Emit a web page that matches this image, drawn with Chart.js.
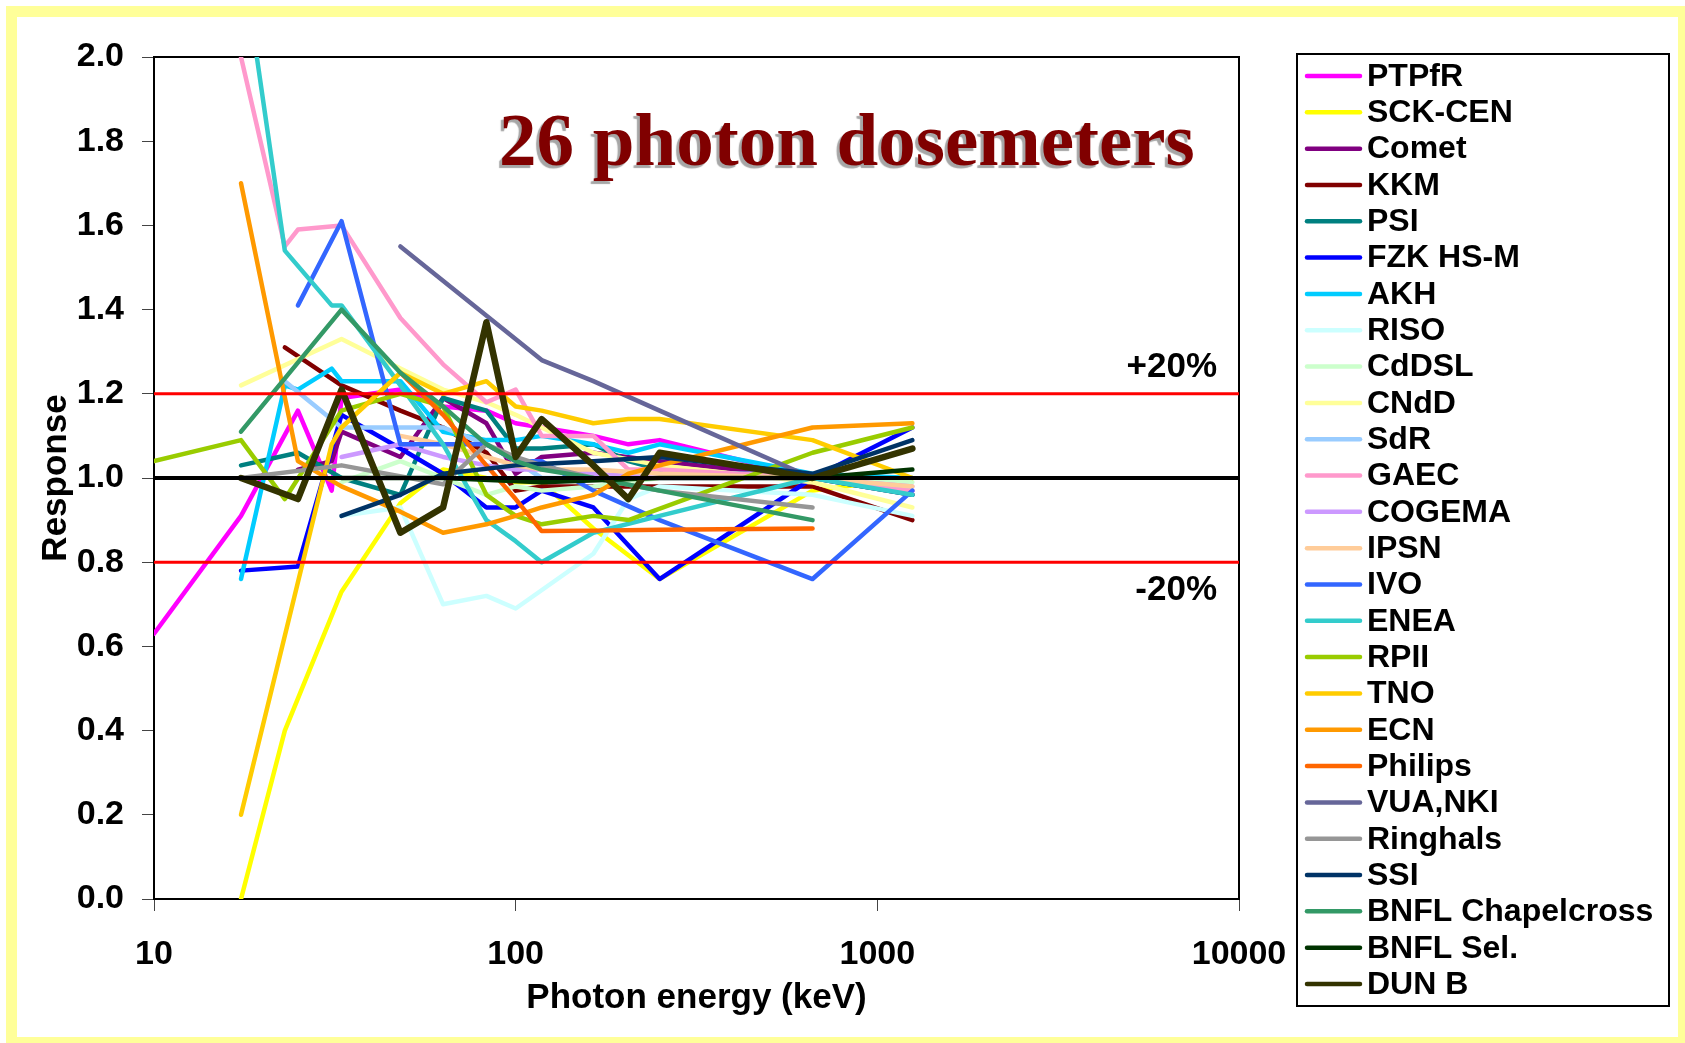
<!DOCTYPE html>
<html>
<head>
<meta charset="utf-8">
<title>26 photon dosemeters</title>
<script src="https://cdn.jsdelivr.net/npm/chart.js@4.4.1/dist/chart.umd.min.js"></script>
<style>
  html, body { margin: 0; padding: 0; background: #fff; overflow: hidden; }
  #frame { position: absolute; left: 6px; top: 6px; width: 1661px; height: 1020px; border: 11px solid #ffff99; }
  #chart { position: absolute; left: 0; top: 0; }
</style>
</head>
<body>
<div id="frame"></div>
<canvas id="chart" width="1685" height="1043"></canvas>
<script>
// axis ticks
const energyTicks = [10, 100, 1000, 10000];
const responseTicks = [0, 0.2, 0.4, 0.6, 0.8, 1.0, 1.2, 1.4, 1.6, 1.8, 2.0];

// reference levels
const unity = 1.0;
const tolerance = [0.8, 1.2];

// participants, in legend order
const names = ['PTPfR', 'SCK-CEN', 'Comet', 'KKM', 'PSI', 'FZK HS-M', 'AKH', 'RISO', 'CdDSL', 'CNdD',
  'SdR', 'GAEC', 'COGEMA', 'IPSN', 'IVO', 'ENEA', 'RPII', 'TNO', 'ECN', 'Philips',
  'VUA,NKI', 'Ringhals', 'SSI', 'BNFL Chapelcross', 'BNFL Sel.', 'DUN B'];

const colors = ['#ff00ff', '#ffff00', '#800080', '#800000', '#008080', '#0000ff', '#00ccff', '#ccffff', '#ccffcc', '#ffff99',
  '#99ccff', '#ff99cc', '#cc99ff', '#ffcc99', '#3366ff', '#33cccc', '#99cc00', '#ffcc00', '#ff9900', '#ff6600',
  '#666699', '#969696', '#003366', '#339966', '#003300', '#333300'];

// [energy keV, response]
const PTPfR = [[10,0.63],[17.4,0.91],[25,1.16],[31,0.97],[33,1.19],[48,1.21],[63,1.17],[83,1.16],[100,1.13],[118,1.12],[164,1.10],[205,1.08],[250,1.09],[662,1.0],[1250,0.97]];
const SCK_CEN = [[17.4,0.0],[23,0.40],[33,0.73],[48,0.94],[63,1.02],[83,1.0],[100,0.99],[118,0.99],[164,0.88],[250,0.76],[662,0.97],[1250,1.0]];
const Comet = [[25,1.02],[31,1.04],[33,1.11],[48,1.05],[63,1.19],[83,1.13],[100,1.01],[118,1.05],[164,1.06],[250,1.04],[662,1.0],[1250,0.96]];
const KKM = [[23,1.31],[33,1.22],[48,1.16],[63,1.12],[83,1.06],[100,0.97],[118,0.98],[164,0.98],[250,0.98],[662,0.98],[1250,0.90]];
const PSI = [[17.4,1.03],[25,1.06],[33,1.0],[48,0.96],[63,1.19],[83,1.16],[100,1.07],[118,1.07],[164,1.08],[205,1.04],[250,1.02],[662,1.0],[1250,0.96]];
const FZK_HS_M = [[17.4,0.78],[25,0.79],[33,1.15],[48,1.07],[63,1.01],[83,0.93],[100,0.93],[118,0.97],[164,0.93],[250,0.76],[662,1.0],[1250,1.12]];
const AKH = [[17.4,0.76],[23,1.22],[25,1.21],[31,1.26],[33,1.23],[48,1.23],[63,1.11],[83,1.09],[100,1.09],[118,1.10],[164,1.08],[205,1.06],[250,1.08],[662,1.01],[1250,1.0]];
const RISO = [[33,0.91],[48,0.93],[63,0.70],[83,0.72],[100,0.69],[164,0.82],[205,0.95],[250,0.98],[662,0.96],[1250,0.91]];
const CdDSL = [[33,0.99],[48,1.04],[63,1.0],[83,0.96],[100,0.98],[118,0.97],[164,0.98],[250,1.0],[662,1.0],[1250,0.99]];
const CNdD = [[17.4,1.22],[33,1.33],[48,1.26],[63,1.21],[83,1.18],[100,1.15],[118,1.12],[164,1.06],[250,1.03],[662,0.99],[1250,0.93]];
const SdR = [[23,1.23],[33,1.12],[48,1.12],[63,1.12],[83,1.08],[100,1.04],[118,1.0],[164,1.0],[250,1.01],[662,1.01],[1250,0.97]];
const GAEC = [[17.4,2.0],[23,1.55],[25,1.59],[33,1.60],[48,1.38],[63,1.27],[83,1.18],[100,1.21],[118,1.10],[164,1.10],[205,1.02],[250,1.02],[662,1.0],[1250,0.97]];
const COGEMA = [[33,1.05],[48,1.08],[63,1.05],[83,1.03],[100,1.02],[118,1.02],[164,1.01],[250,1.0],[662,1.0],[1250,0.98]];
const IPSN = [[48,1.1],[63,1.08],[83,1.05],[100,1.03],[118,1.02],[164,1.02],[250,1.01],[662,1.0],[1250,0.98]];
const IVO = [[25,1.41],[33,1.61],[48,1.08],[63,1.08],[83,1.08],[100,1.04],[118,1.04],[164,0.97],[250,0.90],[662,0.76],[1250,0.97]];
const ENEA = [[17.4,2.26],[23,1.54],[31,1.41],[33,1.41],[48,1.22],[63,1.08],[83,0.90],[100,0.85],[118,0.80],[164,0.87],[250,0.91],[662,1.0],[1250,0.96]];
const RPII = [[10,1.04],[17.4,1.09],[23,0.95],[33,1.16],[48,1.20],[63,1.17],[83,0.96],[100,0.91],[118,0.89],[164,0.91],[205,0.90],[662,1.06],[1250,1.12]];
const TNO = [[17.4,0.20],[31,1.08],[33,1.12],[48,1.25],[63,1.20],[83,1.23],[100,1.17],[118,1.16],[164,1.13],[205,1.14],[250,1.14],[662,1.09],[1250,1.0]];
const ECN = [[17.4,1.70],[25,1.04],[33,0.98],[48,0.92],[63,0.87],[83,0.89],[100,0.91],[118,0.93],[164,0.96],[205,1.01],[250,1.03],[662,1.12],[1250,1.13]];
const Philips = [[48,1.25],[63,1.15],[83,1.03],[100,0.95],[118,0.874],[164,0.875],[250,0.877],[662,0.88]];
const VUA_NKI = [[48,1.55],[118,1.28],[164,1.23],[250,1.16],[662,1.0]];
const Ringhals = [[17.4,1.0],[33,1.03],[63,0.985],[83,1.08],[100,1.05],[118,1.03],[164,1.0],[250,0.97],[662,0.93]];
const SSI = [[33,0.91],[48,0.96],[63,1.01],[100,1.03],[164,1.04],[250,1.05],[662,1.01],[1250,1.09]];
const BNFL_Chapelcross = [[17.4,1.11],[33,1.40],[48,1.25],[63,1.17],[83,1.08],[100,1.04],[118,1.02],[164,1.0],[250,0.97],[662,0.90]];
const BNFL_Sel = [[33,1.0],[63,1.0],[118,0.99],[250,1.0],[662,1.0],[1250,1.02]];
const DUN_B = [[17.4,1.0],[25,0.95],[33,1.21],[48,0.87],[63,0.93],[83,1.37],[100,1.05],[118,1.14],[164,1.03],[205,0.95],[250,1.06],[662,1.0],[1250,1.07]];

const seriesData = [PTPfR, SCK_CEN, Comet, KKM, PSI, FZK_HS_M, AKH, RISO, CdDSL, CNdD,
  SdR, GAEC, COGEMA, IPSN, IVO, ENEA, RPII, TNO, ECN, Philips,
  VUA_NKI, Ringhals, SSI, BNFL_Chapelcross, BNFL_Sel, DUN_B];

const sans = '"Liberation Sans", Arial, sans-serif';
const toPoints = pairs => pairs.map(([x, y]) => ({ x, y }));
const fullWidth = level => [{ x: energyTicks[0], y: level }, { x: energyTicks[energyTicks.length - 1], y: level }];

const datasets = seriesData.map((pairs, i) => ({
  label: names[i],
  data: toPoints(pairs),
  borderColor: colors[i],
  backgroundColor: colors[i],
  borderWidth: names[i] === 'DUN B' ? 6.5 : 4.5,
  order: names.length - i
}));

// unity and +/-20% lines sit on top of everything
datasets.push({ label: 'unity', data: fullWidth(unity), borderColor: '#000', borderWidth: 4, order: 0 });
tolerance.forEach(level => {
  datasets.push({ label: 'tol', data: fullWidth(level), borderColor: '#ff0000', borderWidth: 3, order: 0 });
});

const decorations = {
  id: 'decorations',
  beforeDatasetsDraw(chart) {
    const { ctx, chartArea: a } = chart;
    ctx.save();
    ctx.strokeStyle = '#000';
    ctx.lineWidth = 2;
    ctx.strokeRect(a.left, a.top, a.right - a.left, a.bottom - a.top);
    ctx.restore();
  },
  afterDraw(chart) {
    const { ctx, chartArea: a, scales } = chart;
    const y = scales.y;
    ctx.save();

    // band labels
    ctx.fillStyle = '#000';
    ctx.font = 'bold 35px ' + sans;
    ctx.textAlign = 'right';
    ctx.textBaseline = 'middle';
    ctx.fillText('+20%', a.right - 22, y.getPixelForValue(tolerance[1]) - 26);
    ctx.fillText('-20%', a.right - 22, y.getPixelForValue(tolerance[0]) + 28);

    // heading with drop shadow
    ctx.font = 'bold 75px "Liberation Serif", "Times New Roman", serif';
    ctx.textAlign = 'left';
    ctx.textBaseline = 'alphabetic';
    ctx.shadowColor = '#a6a6a6';
    ctx.shadowOffsetX = -3;
    ctx.shadowOffsetY = 3;
    ctx.shadowBlur = 1;
    ctx.fillStyle = '#800000';
    ctx.fillText('26 photon dosemeters', 499, 165);
    ctx.restore();

    // legend box
    ctx.save();
    const box = { left: 1297, top: 54, right: 1669, bottom: 1006 };
    ctx.fillStyle = '#fff';
    ctx.fillRect(box.left, box.top, box.right - box.left, box.bottom - box.top);
    ctx.strokeStyle = '#000';
    ctx.lineWidth = 2;
    ctx.strokeRect(box.left, box.top, box.right - box.left, box.bottom - box.top);
    const rowH = (box.bottom - box.top - 44) / (names.length - 1);
    ctx.font = 'bold 32px ' + sans;
    ctx.textAlign = 'left';
    ctx.textBaseline = 'middle';
    ctx.lineCap = 'round';
    names.forEach((name, i) => {
      const ry = box.top + 22 + i * rowH;
      ctx.strokeStyle = colors[i];
      ctx.lineWidth = 4.5;
      ctx.beginPath();
      ctx.moveTo(box.left + 10, ry);
      ctx.lineTo(box.left + 63, ry);
      ctx.stroke();
      ctx.fillStyle = '#000';
      ctx.fillText(name, box.left + 70, ry + 1);
    });
    ctx.restore();
  }
};

new Chart(document.getElementById('chart'), {
  type: 'line',
  data: { datasets },
  options: {
    responsive: false,
    animation: false,
    devicePixelRatio: 1,
    layout: { padding: { left: 0, top: 57, right: 446, bottom: 0 } },
    elements: {
      point: { radius: 0 },
      line: { tension: 0, borderJoinStyle: 'round', borderCapStyle: 'round', fill: false }
    },
    datasets: { line: { clip: 0 } },
    plugins: { legend: { display: false }, tooltip: { enabled: false } },
    scales: {
      x: {
        type: 'logarithmic',
        min: 10,
        max: 10000,
        afterBuildTicks: s => { s.ticks = energyTicks.map(v => ({ value: v, major: true })); },
        afterFit: s => { s.height = 144; },
        ticks: {
          color: '#000',
          font: { family: sans, size: 34, weight: 'bold' },
          padding: 23,
          maxRotation: 0,
          autoSkip: false,
          callback: v => String(v)
        },
        grid: { drawOnChartArea: false, drawTicks: true, tickLength: 12, color: '#444', lineWidth: 1 },
        border: { display: true, color: '#000', width: 2 },
        title: {
          display: true,
          text: 'Photon energy (keV)',
          color: '#000',
          font: { family: sans, size: 35, weight: 'bold' },
          padding: { top: 0, bottom: 24 }
        }
      },
      y: {
        min: 0,
        max: 2,
        afterBuildTicks: s => { s.ticks = responseTicks.map(v => ({ value: v })); },
        afterFit: s => { s.width = 154; },
        ticks: {
          color: '#000',
          font: { family: sans, size: 34, weight: 'bold' },
          padding: 18,
          callback: v => Number(v).toFixed(1)
        },
        grid: { drawOnChartArea: false, drawTicks: true, tickLength: 12, color: '#444', lineWidth: 1 },
        border: { display: true, color: '#000', width: 2 },
        title: {
          display: true,
          text: 'Response',
          color: '#000',
          font: { family: sans, size: 35, weight: 'bold' },
          padding: { top: 35, bottom: 0 }
        }
      }
    }
  },
  plugins: [decorations]
});
</script>
</body>
</html>
